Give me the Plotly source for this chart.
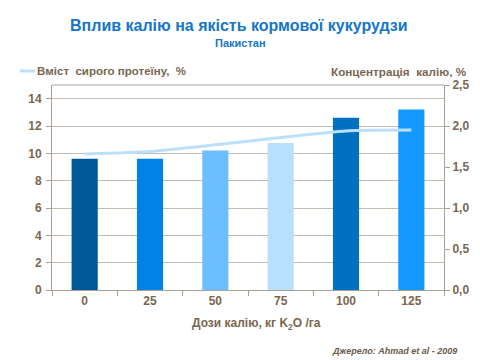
import plotly.graph_objects as go

categories = ["0", "25", "50", "75", "100", "125"]
bar_values = [9.6, 9.6, 10.2, 10.75, 12.6, 13.2]
line_values = [1.66, 1.69, 1.77, 1.86, 1.94, 1.95]
bar_colors = ["#005899", "#0082E6", "#6BBEFF", "#B9DFFF", "#0070C0", "#1399FF"]

txt = "#7A6650"
axc = "#A8A097"
font = "Liberation Sans, Arial, sans-serif"
L, R, T, B = 52, 36, 85, 70
PW, PH = 480 - L - R, 360 - T - B


def px(x):
    return (x - L) / PW


def py(y):
    return (360 - B - y) / PH


fig = go.Figure()
fig.add_trace(go.Bar(x=categories, y=bar_values, marker=dict(color=bar_colors, line=dict(width=0)),
                     width=0.4, showlegend=False, yaxis="y"))
fig.add_trace(go.Scatter(x=categories, y=line_values, mode="lines", yaxis="y2",
                         line=dict(color="#BDE0FA", width=3, shape="spline", smoothing=0.6),
                         showlegend=False))

tf = dict(family=font, size=12, color=txt, weight="bold")
fig.update_layout(
    width=480, height=360,
    margin=dict(l=L, r=R, t=T, b=B, autoexpand=False),
    paper_bgcolor="white", plot_bgcolor="white",
    font=dict(family=font, color=txt, size=12),
    showlegend=False,
    bargap=0.6,
    xaxis=dict(type="category", showline=True, linecolor=axc, linewidth=1, automargin=False,
               ticks="outside", tickson="boundaries", ticklen=5, tickcolor=axc,
               showgrid=False, tickfont=tf),
    yaxis=dict(range=[0, 15], dtick=2, showline=True, linecolor=axc, linewidth=1, automargin=False,
               ticks="outside", ticklen=5, tickcolor=axc, showgrid=True,
               gridcolor="#C4BCB2", gridwidth=1, zeroline=False,
               tickfont=tf, ticklabelstandoff=2),
    yaxis2=dict(range=[0, 2.5], dtick=0.5, tickformat=".1f", overlaying="y", side="right",
                showline=True, linecolor=axc, linewidth=1, ticks="outside", ticklen=5, automargin=False,
                tickcolor=axc, showgrid=False, zeroline=False, tickfont=tf),
    separators=", ",
)

fig.add_shape(type="line", xref="paper", yref="paper", x0=0, x1=1, y0=1, y1=1,
              line=dict(color=axc, width=1))

# legend (manual)
fig.add_shape(type="line", xref="paper", yref="paper", x0=px(20), x1=px(35), y0=py(71), y1=py(71),
              line=dict(color="#BDE0FA", width=3))
fig.add_annotation(text="<b>Вміст  сирого протеїну,  %</b>", xref="paper", yref="paper",
                   x=px(35), y=py(71), xanchor="left", yanchor="middle", showarrow=False,
                   font=dict(family=font, size=11.5, color=txt))

fig.add_annotation(text="<b>Вплив калію на якість кормової кукурудзи</b>", xref="paper", yref="paper",
                   x=px(239), y=py(26), xanchor="center", yanchor="middle", showarrow=False,
                   font=dict(family=font, size=16, color="#1576C8"))
fig.add_annotation(text="<b>Пакистан</b>", xref="paper", yref="paper",
                   x=px(240), y=py(43), xanchor="center", yanchor="middle", showarrow=False,
                   font=dict(family=font, size=11, color="#1576C8"))
fig.add_annotation(text="<b>Концентрація  калію, %</b>", xref="paper", yref="paper",
                   x=px(469), y=py(72), xanchor="right", yanchor="middle", showarrow=False,
                   font=dict(family=font, size=11.7, color=txt))
fig.add_annotation(text="<b>Дози калію, кг K<sub>2</sub>O /га</b>", xref="paper", yref="paper",
                   x=px(256), y=py(324), xanchor="center", yanchor="middle", showarrow=False,
                   font=dict(family=font, size=12, color=txt))
fig.add_annotation(text="<b><i>Джерело: Ahmad et al - 2009</i></b>", xref="paper", yref="paper",
                   x=px(459), y=py(351), xanchor="right", yanchor="middle", showarrow=False,
                   font=dict(family=font, size=9, color="#6A5A4A"))

fig.write_html("out.html", config={"displayModeBar": False},
               post_script="document.body.style.margin='0';document.body.style.overflow='hidden';")
